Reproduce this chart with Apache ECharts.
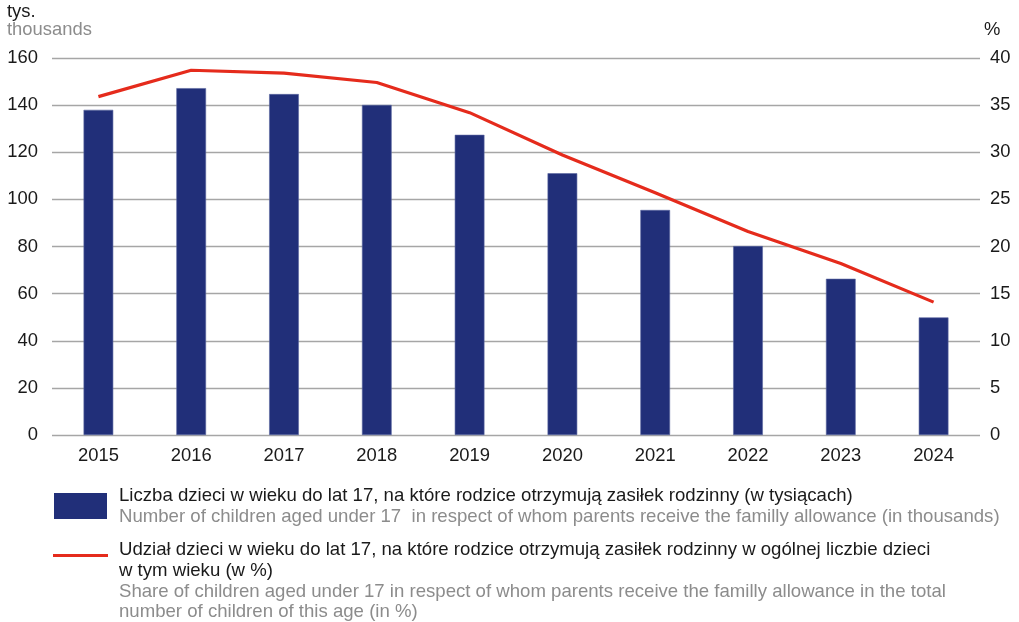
<!DOCTYPE html>
<html>
<head>
<meta charset="utf-8">
<script src="https://cdn.jsdelivr.net/npm/echarts@6/dist/echarts.min.js"></script>
<style>
html,body{margin:0;padding:0;background:#fff;}
#chart{width:1019px;height:622px;}
</style>
</head>
<body>
<div id="chart"></div>
<script>
const years = ['2015','2016','2017','2018','2019','2020','2021','2022','2023','2024'];
const childrenThousands = [138.0, 147.2, 144.7, 140.1, 127.4, 111.1, 95.5, 80.2, 66.3, 49.9];
const sharePercent = [35.9, 38.7, 38.4, 37.4, 34.2, 29.7, 25.7, 21.6, 18.2, 14.1];
const leftTicks = [0, 160, 20];
const rightTicks = [0, 40, 5];
const barNamePl = 'Liczba dzieci w wieku do lat 17, na które rodzice otrzymują zasiłek rodzinny (w tysiącach)';
const barNameEn = 'Number of children aged under 17  in respect of whom parents receive the familly allowance (in thousands)';
const lineNamePl = ['Udział dzieci w wieku do lat 17, na które rodzice otrzymują zasiłek rodzinny w ogólnej liczbie dzieci', 'w tym wieku (w %)'];
const lineNameEn = ['Share of children aged under 17 in respect of whom parents receive the familly allowance in the total', 'number of children of this age (in %)'];

const FONT = '"Liberation Sans", Arial, sans-serif';
const FS = 18.4;
const LFS = 18.6;
const BAR = '#212f79';
const RED = '#e52b1c';
const GRAY = '#8c8c8c';
const TXT = '#1a1a1a';

const chart = echarts.init(document.getElementById('chart'));
chart.setOption({
  animation: false,
  textStyle: { fontFamily: FONT },
  grid: { left: 52, right: 39, top: 58, bottom: 187, containLabel: false },
  xAxis: {
    type: 'category',
    data: years,
    axisLine: { show: false },
    axisTick: { show: false },
    axisLabel: { color: TXT, fontSize: FS, fontFamily: FONT, margin: 12 }
  },
  yAxis: [
    {
      type: 'value', min: leftTicks[0], max: leftTicks[1], interval: leftTicks[2],
      axisLine: { show: false }, axisTick: { show: false },
      axisLabel: { color: TXT, fontSize: FS, fontFamily: FONT, margin: 14 },
      splitLine: { lineStyle: { color: '#a6a6a6', width: 1.3 } }
    },
    {
      type: 'value', min: rightTicks[0], max: rightTicks[1], interval: rightTicks[2],
      axisLine: { show: false }, axisTick: { show: false },
      axisLabel: { color: TXT, fontSize: FS, fontFamily: FONT, margin: 10 },
      splitLine: { show: false }
    }
  ],
  series: [
    {
      name: barNamePl, type: 'bar', data: childrenThousands, yAxisIndex: 0,
      barWidth: '32%',
      itemStyle: { color: BAR, borderColor: '#5a66a0', borderWidth: 0.6 }
    },
    {
      name: lineNamePl[0], type: 'line', data: sharePercent, yAxisIndex: 1,
      symbol: 'none', smooth: false,
      lineStyle: { color: RED, width: 3.2 }
    }
  ],
  graphic: [
    { type: 'text', left: 7, top: 3, style: { text: 'tys.', fill: TXT, font: FS + 'px ' + FONT } },
    { type: 'text', left: 7, top: 21, style: { text: 'thousands', fill: GRAY, font: FS + 'px ' + FONT } },
    { type: 'text', left: 984, top: 21, style: { text: '%', fill: TXT, font: FS + 'px ' + FONT } },
    { type: 'rect', shape: { x: 54, y: 493, width: 53, height: 26 }, style: { fill: BAR } },
    { type: 'text', left: 119, top: 486, style: { text: barNamePl, fill: TXT, font: LFS + 'px ' + FONT } },
    { type: 'text', left: 119, top: 507, style: { text: barNameEn, fill: GRAY, font: LFS + 'px ' + FONT } },
    { type: 'line', shape: { x1: 53, y1: 555.5, x2: 108, y2: 555.5 }, style: { stroke: RED, lineWidth: 3.2 } },
    { type: 'text', left: 119, top: 540, style: { text: lineNamePl[0], fill: TXT, font: LFS + 'px ' + FONT } },
    { type: 'text', left: 119, top: 561, style: { text: lineNamePl[1], fill: TXT, font: LFS + 'px ' + FONT } },
    { type: 'text', left: 119, top: 582, style: { text: lineNameEn[0], fill: GRAY, font: LFS + 'px ' + FONT } },
    { type: 'text', left: 119, top: 602, style: { text: lineNameEn[1], fill: GRAY, font: LFS + 'px ' + FONT } }
  ]
});
</script>
</body>
</html>
